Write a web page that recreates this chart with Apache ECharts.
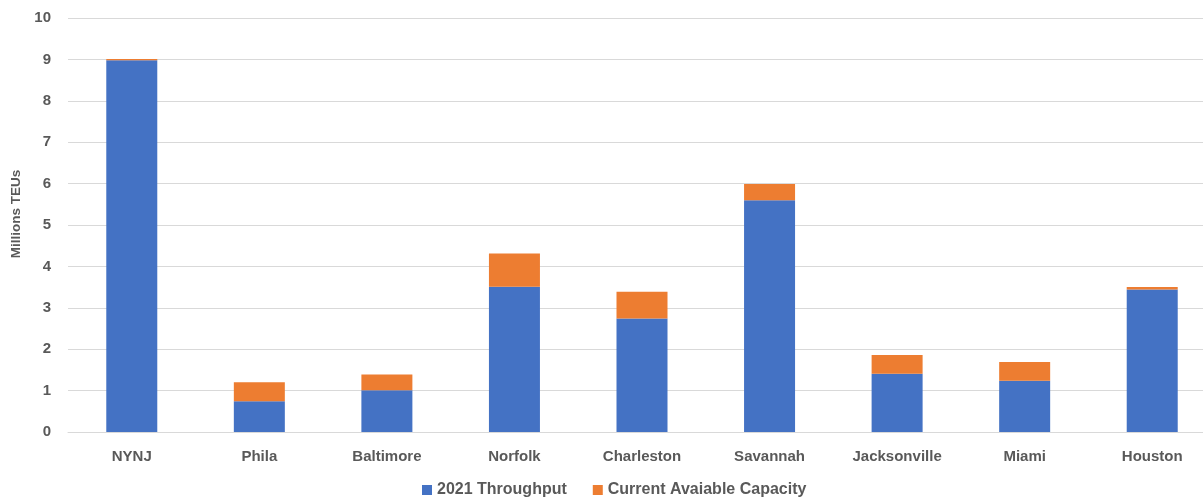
<!DOCTYPE html>
<html>
<head>
<meta charset="utf-8">
<script src="https://cdn.jsdelivr.net/npm/echarts@6/dist/echarts.min.js"></script>
<style>
    html, body { margin: 0; padding: 0; background: #fff; }
    #chart { width: 1203px; height: 498px; }
</style>
</head>
<body>
<div id="chart"></div>
<script>
    const ports = ['NYNJ', 'Phila', 'Baltimore', 'Norfolk', 'Charleston', 'Savannah', 'Jacksonville', 'Miami', 'Houston']
    const throughput2021 = [8.98, 0.74, 1.01, 3.51, 2.74, 5.60, 1.41, 1.24, 3.44]
    const availableCapacity = [0.03, 0.46, 0.38, 0.80, 0.65, 0.39, 0.45, 0.45, 0.06]

    const font = 'Liberation Sans'
    const labelColor = '#595959'

    const chart = echarts.init(document.getElementById('chart'))
    const option = {
        animation: false,
        textStyle: { fontFamily: font },
        legend: {
            top: 477,
            left: 417,
            itemWidth: 10,
            itemHeight: 10,
            itemGap: 26,
            icon: 'rect',
            textStyle: { fontSize: 16, fontWeight: 'bold', color: labelColor, fontFamily: font }
        },
        grid: {
            left: 68,
            top: 18,
            width: 1148,
            height: 414,
            outerBoundsMode: 'none'
        },
        xAxis: {
            type: 'category',
            data: ports,
            axisTick: { show: false },
            axisLine: { lineStyle: { color: '#d9d9d9', width: 1 } },
            axisLabel: { fontSize: 15, fontWeight: 'bold', color: labelColor, margin: 17 }
        },
        yAxis: {
            type: 'value',
            min: 0,
            max: 10,
            interval: 1,
            name: 'Millions TEUs',
            nameLocation: 'middle',
            nameGap: 45,
            nameTextStyle: { fontSize: 13.5, fontWeight: 'bold', color: labelColor, padding: [0, 0, 0, 22] },
            axisLine: { show: false },
            axisTick: { show: false },
            splitLine: { lineStyle: { color: '#d9d9d9', width: 1 } },
            axisLabel: { fontSize: 15, fontWeight: 'bold', color: labelColor, margin: 17 }
        },
        series: [
            {
                name: '2021 Throughput',
                type: 'bar',
                stack: 'total',
                barWidth: 51,
                itemStyle: { color: '#4472c4' },
                data: throughput2021
            },
            {
                name: 'Current Avaiable Capacity',
                type: 'bar',
                stack: 'total',
                barWidth: 51,
                itemStyle: { color: '#ed7d31' },
                data: availableCapacity
            }
        ]
    }
    chart.setOption(option)
</script>
</body>
</html>
